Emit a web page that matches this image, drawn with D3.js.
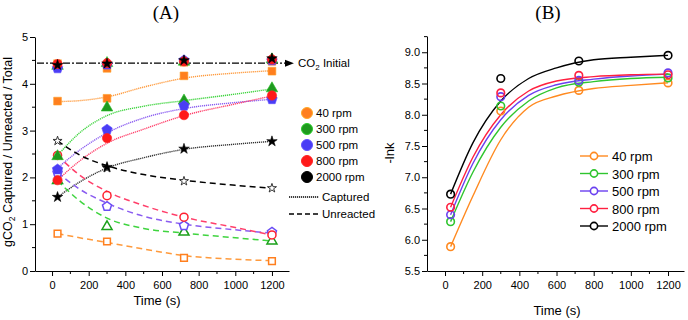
<!DOCTYPE html>
<html>
<head>
<meta charset="utf-8">
<script src="https://cdn.jsdelivr.net/npm/d3@7"></script>
<style>
  body { margin: 0; background: #fff; }
  svg { display: block; font-family: Arial, "Liberation Sans", sans-serif; }
  .axis path, .axis line { stroke: #000; }
  .axis text { font-size: 11px; fill: #000; }
</style>
</head>
<body>
<div id="viewport"></div>
<script>
// sampling times (s)
var times = [30, 300, 720, 1200];
var rpmLabels = ["40 rpm", "300 rpm", "500 rpm", "800 rpm", "2000 rpm"];

// panel A measured points (g CO2)
var capturedA = [
    [3.63, 3.69, 4.17, 4.27],
    [2.45, 3.49, 3.64, 3.90],
    [2.17, 3.02, 3.53, 3.67],
    [1.94, 2.84, 3.33, 3.75],
    [1.58, 2.22, 2.61, 2.77]
];
var unreactedA = [
    [0.80, 0.63, 0.28, 0.21],
    [1.93, 0.95, 0.83, 0.64],
    [2.10, 1.38, 0.97, 0.83],
    [2.47, 1.61, 1.15, 0.77],
    [2.78, 2.20, 1.92, 1.77]
];
var totalA = [
    [4.43, 4.33, 4.46, 4.48],
    [4.38, 4.44, 4.47, 4.52],
    [4.33, 4.41, 4.50, 4.50],
    [4.42, 4.44, 4.48, 4.52],
    [4.40, 4.43, 4.50, 4.54]
];
var co2Initial = 4.44;

var fitTimesA = [30, 150, 300, 500, 720, 1000, 1200];
var capturedFit = [
    [3.62, 3.64, 3.72, 3.93, 4.12, 4.23, 4.28],
    [2.47, 2.95, 3.32, 3.52, 3.64, 3.78, 3.89],
    [2.20, 2.58, 2.95, 3.27, 3.47, 3.60, 3.67],
    [1.94, 2.35, 2.73, 3.03, 3.32, 3.57, 3.74],
    [1.58, 1.90, 2.20, 2.42, 2.60, 2.71, 2.77]
];
var unreactedFit = [
    [0.80, 0.71, 0.61, 0.47, 0.33, 0.25, 0.22],
    [1.93, 1.50, 1.13, 0.91, 0.81, 0.71, 0.64],
    [2.10, 1.75, 1.45, 1.17, 1.00, 0.88, 0.81],
    [2.47, 2.05, 1.70, 1.40, 1.15, 0.93, 0.77],
    [2.78, 2.48, 2.25, 2.06, 1.94, 1.83, 1.77]
];

// panel B: -ln k
var lnkB = [
    [5.89, 8.06, 8.39, 8.51],
    [6.29, 8.14, 8.52, 8.59],
    [6.40, 8.29, 8.55, 8.67],
    [6.52, 8.35, 8.63, 8.64],
    [6.73, 8.58, 8.86, 8.95]
];
var fitTimesB = [30, 150, 300, 450, 600, 800, 1000, 1200];
var lnkFit = [
    [5.89, 6.70, 7.60, 8.12, 8.30, 8.42, 8.47, 8.51],
    [6.29, 7.08, 7.80, 8.22, 8.43, 8.53, 8.58, 8.60],
    [6.40, 7.22, 7.92, 8.31, 8.48, 8.57, 8.62, 8.65],
    [6.52, 7.32, 8.00, 8.38, 8.54, 8.61, 8.64, 8.65],
    [6.73, 7.55, 8.22, 8.58, 8.75, 8.88, 8.92, 8.95]
];

var xTicks = [0, 200, 400, 600, 800, 1000, 1200];

// colours
var fillCol = ["#ff7f1e", "#1f9a1f", "#4a3df5", "#ff1a1a", "#000000"];
var lineCol = ["#ff9a3c", "#3fd43f", "#8a5cf0", "#ff3f6a", "#333333"];
var openCol = ["#ff7f1e", "#1aa01a", "#6a4df5", "#ff2030", "#333333"];
var lineB = ["#ff8a20", "#2fc52f", "#6a40f0", "#ff2040", "#000000"];

var W = 688, H = 320;
var svg = d3.select("#viewport").append("svg")
    .attr("width", W).attr("height", H);

// pentagon symbol, d3 has none
var symbolPentagon = {
    draw: function(ctx, size) {
        var r = Math.sqrt(size / 2.38);
        for (var i = 0; i < 5; i++) {
            var a = -Math.PI / 2 + i * 2 * Math.PI / 5;
            if (i === 0) ctx.moveTo(r * Math.cos(a), r * Math.sin(a));
            else ctx.lineTo(r * Math.cos(a), r * Math.sin(a));
        }
        ctx.closePath();
    }
};
var symTypes = [d3.symbolSquare, d3.symbolTriangle, symbolPentagon, d3.symbolCircle, d3.symbolStar];
var symSize = [60, 58, 72, 68, 34];

function drawAxes(g, x, y, yTicks, yMinor, yFmt, xMinor) {
    var xa = g.append("g").attr("class", "axis")
        .attr("transform", "translate(0," + y.range()[0] + ")");
    xa.call(d3.axisBottom(x).tickValues(xTicks).tickFormat(d3.format("d")).tickSize(5).tickSizeOuter(0));
    xa.append("g").selectAll("line").data(xMinor).enter().append("line")
        .attr("x1", function(d) { return x(d); }).attr("x2", function(d) { return x(d); })
        .attr("y1", 0).attr("y2", 3).attr("stroke", "#000");
    xa.selectAll(".tick text").attr("dy", "0.9em");

    var ya = g.append("g").attr("class", "axis")
        .attr("transform", "translate(" + x.range()[0] + ",0)");
    ya.call(d3.axisLeft(y).tickValues(yTicks).tickFormat(yFmt).tickSize(5).tickSizeOuter(0));
    ya.append("g").selectAll("line").data(yMinor).enter().append("line")
        .attr("y1", function(d) { return y(d); }).attr("y2", function(d) { return y(d); })
        .attr("x1", 0).attr("x2", -3).attr("stroke", "#000");
    ya.selectAll(".tick text").attr("x", -7);
}

var minorX = [-100, 100, 300, 500, 700, 900, 1100];

// ---------------- Panel A ----------------
var xA = d3.scaleLinear().domain([-93, 1293]).range([35, 289]);
var yA = d3.scaleLinear().domain([0, 5]).range([271, 37]);
var gA = svg.append("g");

drawAxes(gA, xA, yA, [0, 1, 2, 3, 4, 5], [0.5, 1.5, 2.5, 3.5, 4.5], d3.format("d"),
    minorX.filter(function(d) { return xA(d) >= 35; }));

// CO2 initial line with arrow
svg.append("defs").append("marker")
    .attr("id", "arr").attr("viewBox", "0 0 10 10").attr("refX", 9).attr("refY", 5)
    .attr("markerWidth", 7).attr("markerHeight", 7).attr("orient", "auto")
    .append("path").attr("d", "M0,1 L10,5 L0,9 Z").attr("fill", "#000");
gA.append("line")
    .attr("x1", xA.range()[0] + 2).attr("x2", xA.range()[1] + 4)
    .attr("y1", yA(co2Initial)).attr("y2", yA(co2Initial))
    .attr("stroke", "#000").attr("stroke-width", 1.3)
    .attr("stroke-dasharray", "7,2,2,2")
    .attr("marker-end", "url(#arr)");
var co2t = gA.append("text").attr("x", 298).attr("y", yA(co2Initial) + 4)
    .attr("font-size", 11.5);
co2t.append("tspan").text("CO");
co2t.append("tspan").attr("font-size", 8).attr("dy", 3).text("2");
co2t.append("tspan").attr("dy", -3).text(" Initial");

var lineA = d3.line()
    .x(function(d) { return xA(d[0]); })
    .y(function(d) { return yA(d[1]); })
    .curve(d3.curveMonotoneX);

// fitted curves
capturedFit.forEach(function(s, i) {
    gA.append("path")
        .attr("d", lineA(fitTimesA.map(function(t, j) { return [t, s[j]]; })))
        .attr("fill", "none").attr("stroke", lineCol[i]).attr("stroke-width", 1.4)
        .attr("stroke-dasharray", "1.2,0.8");
});
unreactedFit.forEach(function(s, i) {
    gA.append("path")
        .attr("d", lineA(fitTimesA.map(function(t, j) { return [t, s[j]]; })))
        .attr("fill", "none").attr("stroke", i === 4 ? "#000" : lineCol[i]).attr("stroke-width", 1.5)
        .attr("stroke-dasharray", "6,4");
});

function drawSymbols(g, data, filled) {
    data.forEach(function(s, i) {
        var sym = d3.symbol().type(symTypes[i]).size(filled ? symSize[i] : symSize[i] * 0.75);
        g.append("g").selectAll("path").data(s).enter().append("path")
            .attr("transform", function(d, j) { return "translate(" + xA(times[j]) + "," + yA(d) + ")"; })
            .attr("d", sym)
            .attr("fill", filled ? fillCol[i] : "#fff")
            .attr("stroke", filled ? (i === 4 ? "#000" : d3.color(fillCol[i]).brighter(0.6)) : openCol[i])
            .attr("stroke-width", filled ? 0.6 : (i === 4 ? 1 : 1.5));
    });
}
drawSymbols(gA, totalA, true);
drawSymbols(gA, unreactedA, false);
drawSymbols(gA, capturedA, true);

// axis labels A
gA.append("text").attr("x", 157).attr("y", 305).attr("text-anchor", "middle")
    .attr("font-size", 13).text("Time (s)");
var ylab = gA.append("text").attr("transform", "translate(12,152) rotate(-90)")
    .attr("text-anchor", "middle").attr("font-size", 12.5);
ylab.append("tspan").text("gCO");
ylab.append("tspan").attr("font-size", 8.5).attr("dy", 3).text("2");
ylab.append("tspan").attr("dy", -3).text(" Captured / Unreacted / Total");

svg.append("text").attr("x", 166).attr("y", 19).attr("text-anchor", "middle")
    .attr("font-family", "'Liberation Serif', 'Times New Roman', serif")
    .attr("font-size", 19).text("(A)");

// legend A
var legA = gA.append("g");
rpmLabels.forEach(function(lbl, i) {
    var yy = 113 + i * 16;
    legA.append("circle").attr("cx", 307).attr("cy", yy).attr("r", 5.5)
        .attr("fill", fillCol[i]).attr("stroke", i === 4 ? "#000" : d3.color(fillCol[i]).brighter(0.8))
        .attr("stroke-width", 1);
    legA.append("text").attr("x", 316).attr("y", yy + 4).attr("font-size", 11.5).text(lbl);
});
[["Captured", "1.2,0.8", 197], ["Unreacted", "5,3", 214]].forEach(function(d) {
    legA.append("line").attr("x1", 289).attr("x2", 319).attr("y1", d[2]).attr("y2", d[2])
        .attr("stroke", "#000").attr("stroke-width", 1.5).attr("stroke-dasharray", d[1]);
    legA.append("text").attr("x", 322).attr("y", d[2] + 4).attr("font-size", 11.5).text(d[0]);
});

// ---------------- Panel B ----------------
var xB = d3.scaleLinear().domain([-97, 1286]).range([427, 684]);
var yB = d3.scaleLinear().domain([5.5, 9.26]).range([271, 36]);
var gB = svg.append("g");

drawAxes(gB, xB, yB, [5.5, 6, 6.5, 7, 7.5, 8, 8.5, 9],
    [5.75, 6.25, 6.75, 7.25, 7.75, 8.25, 8.75, 9.25], d3.format(".1f"),
    minorX.filter(function(d) { return xB(d) >= 427; }));

var lineBgen = d3.line()
    .x(function(d) { return xB(d[0]); })
    .y(function(d) { return yB(d[1]); })
    .curve(d3.curveMonotoneX);

lnkFit.forEach(function(s, i) {
    gB.append("path")
        .attr("d", lineBgen(fitTimesB.map(function(t, j) { return [t, s[j]]; })))
        .attr("fill", "none").attr("stroke", lineB[i]).attr("stroke-width", 1.4);
});
lnkB.forEach(function(s, i) {
    gB.append("g").selectAll("circle").data(s).enter().append("circle")
        .attr("cx", function(d, j) { return xB(times[j]); })
        .attr("cy", function(d) { return yB(d); })
        .attr("r", 3.8).attr("fill", "none")
        .attr("stroke", lineB[i]).attr("stroke-width", 1.6);
});

gB.append("text").attr("x", 557).attr("y", 315).attr("text-anchor", "middle")
    .attr("font-size", 13).text("Time (s)");
gB.append("text").attr("transform", "translate(394,153) rotate(-90)")
    .attr("text-anchor", "middle").attr("font-size", 13).text("-lnk");
svg.append("text").attr("x", 548).attr("y", 19).attr("text-anchor", "middle")
    .attr("font-family", "'Liberation Serif', 'Times New Roman', serif")
    .attr("font-size", 19).text("(B)");

// legend B
rpmLabels.forEach(function(lbl, i) {
    var yy = 156 + i * 17.5;
    gB.append("line").attr("x1", 580).attr("x2", 608).attr("y1", yy).attr("y2", yy)
        .attr("stroke", lineB[i]).attr("stroke-width", 1.4);
    gB.append("circle").attr("cx", 594).attr("cy", yy).attr("r", 3.6)
        .attr("fill", "#fff").attr("stroke", lineB[i]).attr("stroke-width", 1.6);
    gB.append("text").attr("x", 612).attr("y", yy + 5).attr("font-size", 13).text(lbl);
});
</script>
</body>
</html>
